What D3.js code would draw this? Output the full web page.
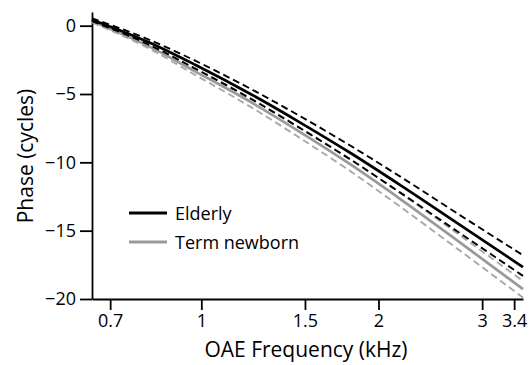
<!DOCTYPE html>
<html>
<head>
<meta charset="utf-8">
<script src="https://cdn.jsdelivr.net/npm/d3@7"></script>
<style>
  body { margin: 0; background: #fff; }
  svg text { font-family: "Open Sans", sans-serif; fill: #000; }
</style>
</head>
<body>
<div id="chart"></div>
<script>
// OAE frequency (kHz) sample points
const freqs = [0.652, 0.818, 0.976, 1.21, 1.47, 1.79, 2.175, 2.75, 3.52];

// Phase (cycles)
const elderly    = [0.44, -1.25, -2.86, -4.98, -7.07, -9.30, -11.65, -14.58, -17.66];
const elderlyHi  = [0.54, -1.05, -2.56, -4.60, -6.61, -8.77, -11.03, -13.86, -16.80];
const elderlyLo  = [0.34, -1.43, -3.14, -5.32, -7.49, -9.78, -12.20, -15.18, -18.31];
const newborn    = [0.32, -1.55, -3.34, -5.56, -7.77, -10.14, -12.67, -15.86, -19.28];
const newbornHi  = [0.40, -1.40, -3.12, -5.28, -7.45, -9.76, -12.23, -15.34, -18.68];
const newbornLo  = [0.24, -1.71, -3.60, -5.92, -8.21, -10.64, -13.23, -16.46, -19.90];

const xTicks = [0.7, 1, 1.5, 2, 3, 3.4];
const yTicks = [0, -5, -10, -15, -20];
const legendLabels = ["Elderly", "Term newborn"];

const margin = { top: 12, right: 6, bottom: 66, left: 92 };
const width = 529 - margin.left - margin.right;
const height = 365 - margin.top - margin.bottom;

const svg = d3.select("#chart")
    .append("svg")
    .attr("width", 529)
    .attr("height", 365)
    .append("g")
    .attr("transform", `translate(${margin.left},${margin.top})`);

// Scales
const x = d3.scaleLog()
    .domain([0.652, 3.52])
    .range([0, 431]);

const y = d3.scaleLinear()
    .domain([-20, 1])
    .range([287, 0]);

// Axes
const xAxis = svg.append("g")
    .attr("transform", `translate(0,${y(-20)})`)
    .call(d3.axisBottom(x).tickValues(xTicks).tickFormat(d => String(d)).tickSize(11).tickSizeOuter(0).tickPadding(4));

const yAxis = svg.append("g")
    .call(d3.axisLeft(y).tickValues(yTicks).tickFormat(d => d < 0 ? "\u2212" + Math.abs(d) : d).tickSize(12).tickSizeOuter(0).tickPadding(4));

[xAxis, yAxis].forEach(a => {
    a.select(".domain").attr("stroke", "#000").attr("stroke-width", 1.8);
    a.selectAll(".tick line").attr("stroke", "#000").attr("stroke-width", 1.8);
    a.selectAll(".tick text").attr("font-size", 18).attr("font-family", "Open Sans");
});

// Axis titles
svg.append("text")
    .attr("x", 306 - margin.left)
    .attr("y", 357 - margin.top)
    .attr("text-anchor", "middle")
    .attr("font-size", 21)
    .text("OAE Frequency (kHz)");

svg.append("text")
    .attr("transform", `translate(${33 - margin.left},${156 - margin.top}) rotate(-90)`)
    .attr("text-anchor", "middle")
    .attr("font-size", 21)
    .text("Phase (cycles)");

// Lines
const line = d3.line()
    .x((d, i) => x(freqs[i]))
    .y(d => y(d))
    .curve(d3.curveMonotoneX);

const series = [
    { values: newbornHi, color: "#a8a8a8", width: 1.9, dash: "7,4" },
    { values: newbornLo, color: "#a8a8a8", width: 1.9, dash: "7,4" },
    { values: newborn,   color: "#9a9a9a", width: 2.7, dash: null },
    { values: elderlyHi, color: "#000",    width: 1.9, dash: "7,4" },
    { values: elderlyLo, color: "#000",    width: 1.9, dash: "7,4" },
    { values: elderly,   color: "#000",    width: 2.7, dash: null }
];

series.forEach(s => {
    svg.append("path")
        .datum(s.values)
        .attr("d", line)
        .attr("fill", "none")
        .attr("stroke", s.color)
        .attr("stroke-width", s.width)
        .attr("stroke-dasharray", s.dash);
});

// Legend
const legendColors = ["#000", "#9a9a9a"];
legendLabels.forEach((label, i) => {
    const ly = 213 - margin.top + i * 29;
    svg.append("line")
        .attr("x1", 129 - margin.left)
        .attr("x2", 167 - margin.left)
        .attr("y1", ly)
        .attr("y2", ly)
        .attr("stroke", legendColors[i])
        .attr("stroke-width", 3);
    svg.append("text")
        .attr("x", 175 - margin.left)
        .attr("y", ly + 6.5)
        .attr("font-size", 18)
        .text(label);
});
</script>
</body>
</html>
